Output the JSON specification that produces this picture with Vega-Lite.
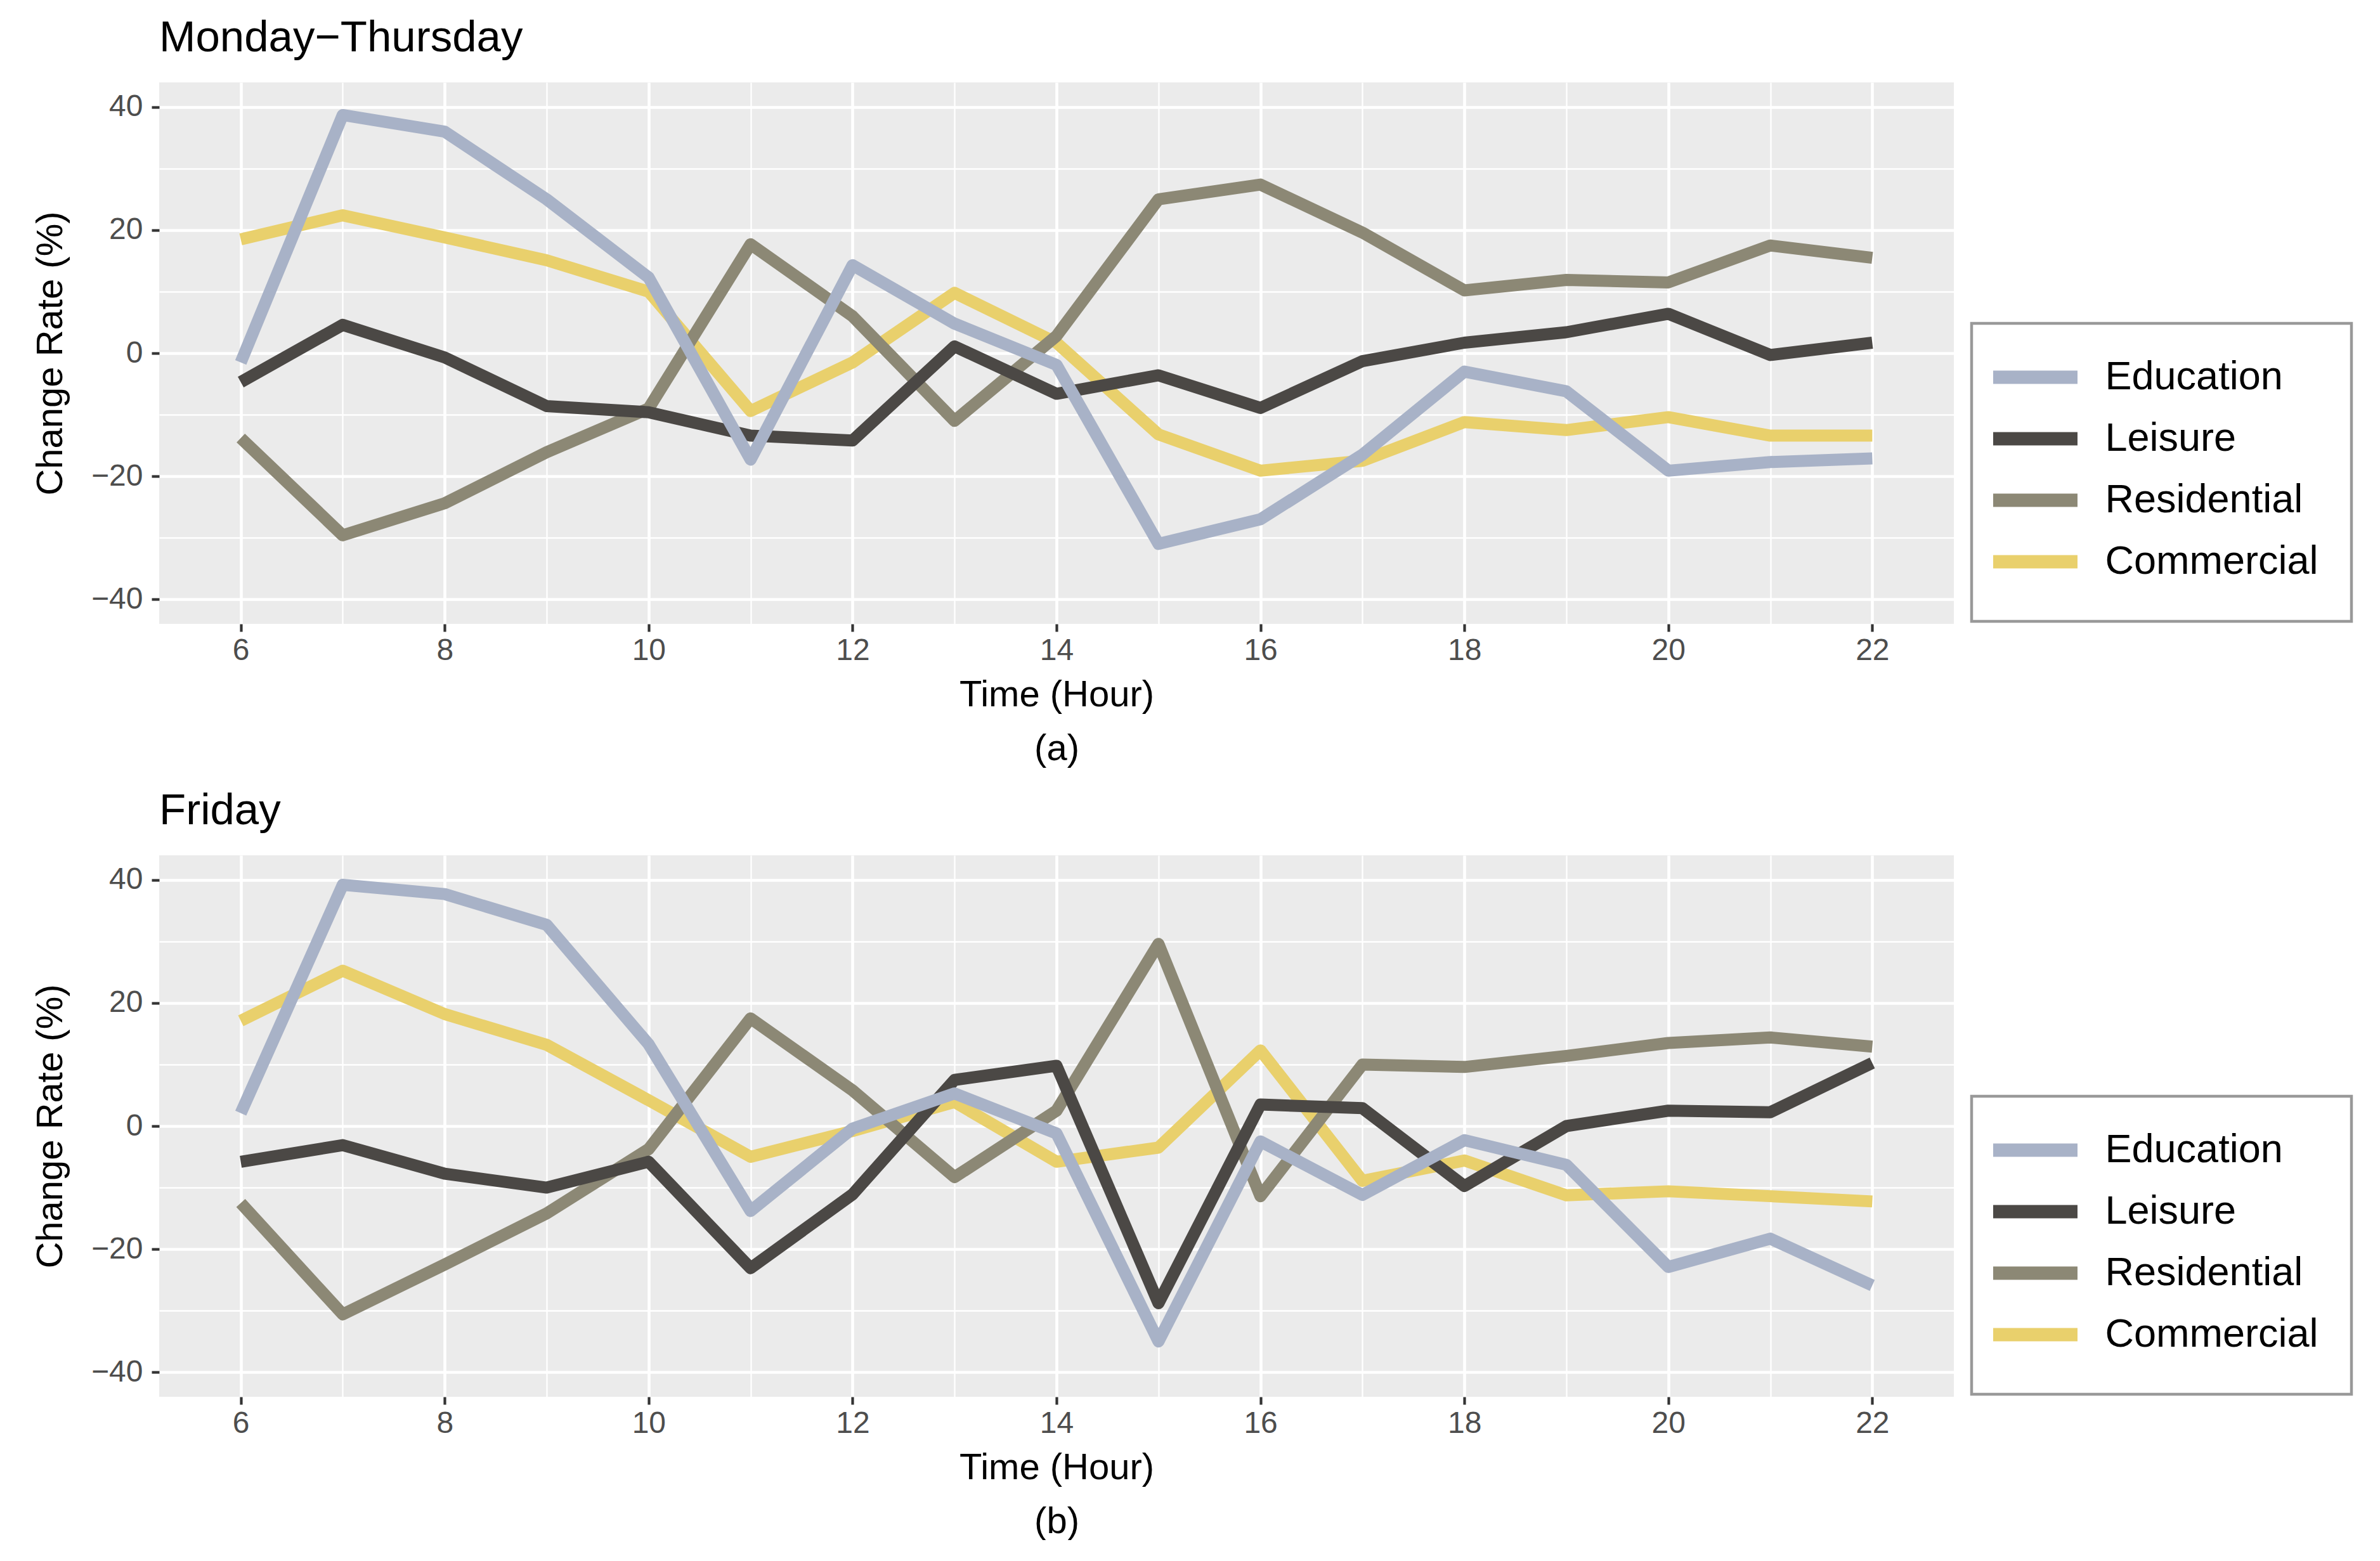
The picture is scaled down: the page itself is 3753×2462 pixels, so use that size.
{
  "$schema": "https://vega.github.io/schema/vega-lite/v6.json",
  "background": "white",
  "padding": {"left": 51, "top": 26, "right": 0, "bottom": 0},
  "autosize": {"type": "pad"},
  "datasets": {
    "rates": [
      {"panel": "a", "category": "Commercial", "hour": 6, "value": 18.5},
      {"panel": "a", "category": "Commercial", "hour": 7, "value": 22.4},
      {"panel": "a", "category": "Commercial", "hour": 8, "value": 18.8},
      {"panel": "a", "category": "Commercial", "hour": 9, "value": 15.1},
      {"panel": "a", "category": "Commercial", "hour": 10, "value": 10.0},
      {"panel": "a", "category": "Commercial", "hour": 11, "value": -9.4},
      {"panel": "a", "category": "Commercial", "hour": 12, "value": -1.5},
      {"panel": "a", "category": "Commercial", "hour": 13, "value": 9.8},
      {"panel": "a", "category": "Commercial", "hour": 14, "value": 1.7},
      {"panel": "a", "category": "Commercial", "hour": 15, "value": -13.2},
      {"panel": "a", "category": "Commercial", "hour": 16, "value": -19.1},
      {"panel": "a", "category": "Commercial", "hour": 17, "value": -17.5},
      {"panel": "a", "category": "Commercial", "hour": 18, "value": -11.2},
      {"panel": "a", "category": "Commercial", "hour": 19, "value": -12.5},
      {"panel": "a", "category": "Commercial", "hour": 20, "value": -10.4},
      {"panel": "a", "category": "Commercial", "hour": 21, "value": -13.4},
      {"panel": "a", "category": "Commercial", "hour": 22, "value": -13.4},
      {"panel": "a", "category": "Residential", "hour": 6, "value": -13.8},
      {"panel": "a", "category": "Residential", "hour": 7, "value": -29.6},
      {"panel": "a", "category": "Residential", "hour": 8, "value": -24.4},
      {"panel": "a", "category": "Residential", "hour": 9, "value": -16.1},
      {"panel": "a", "category": "Residential", "hour": 10, "value": -9.0},
      {"panel": "a", "category": "Residential", "hour": 11, "value": 17.7},
      {"panel": "a", "category": "Residential", "hour": 12, "value": 6.0},
      {"panel": "a", "category": "Residential", "hour": 13, "value": -11.0},
      {"panel": "a", "category": "Residential", "hour": 14, "value": 2.8},
      {"panel": "a", "category": "Residential", "hour": 15, "value": 25.0},
      {"panel": "a", "category": "Residential", "hour": 16, "value": 27.4},
      {"panel": "a", "category": "Residential", "hour": 17, "value": 19.6},
      {"panel": "a", "category": "Residential", "hour": 18, "value": 10.2},
      {"panel": "a", "category": "Residential", "hour": 19, "value": 11.9},
      {"panel": "a", "category": "Residential", "hour": 20, "value": 11.5},
      {"panel": "a", "category": "Residential", "hour": 21, "value": 17.5},
      {"panel": "a", "category": "Residential", "hour": 22, "value": 15.5},
      {"panel": "a", "category": "Leisure", "hour": 6, "value": -4.7},
      {"panel": "a", "category": "Leisure", "hour": 7, "value": 4.6},
      {"panel": "a", "category": "Leisure", "hour": 8, "value": -0.7},
      {"panel": "a", "category": "Leisure", "hour": 9, "value": -8.6},
      {"panel": "a", "category": "Leisure", "hour": 10, "value": -9.6},
      {"panel": "a", "category": "Leisure", "hour": 11, "value": -13.4},
      {"panel": "a", "category": "Leisure", "hour": 12, "value": -14.2},
      {"panel": "a", "category": "Leisure", "hour": 13, "value": 1.1},
      {"panel": "a", "category": "Leisure", "hour": 14, "value": -6.6},
      {"panel": "a", "category": "Leisure", "hour": 15, "value": -3.6},
      {"panel": "a", "category": "Leisure", "hour": 16, "value": -8.9},
      {"panel": "a", "category": "Leisure", "hour": 17, "value": -1.3},
      {"panel": "a", "category": "Leisure", "hour": 18, "value": 1.7},
      {"panel": "a", "category": "Leisure", "hour": 19, "value": 3.4},
      {"panel": "a", "category": "Leisure", "hour": 20, "value": 6.4},
      {"panel": "a", "category": "Leisure", "hour": 21, "value": -0.3},
      {"panel": "a", "category": "Leisure", "hour": 22, "value": 1.7},
      {"panel": "a", "category": "Education", "hour": 6, "value": -1.5},
      {"panel": "a", "category": "Education", "hour": 7, "value": 38.7},
      {"panel": "a", "category": "Education", "hour": 8, "value": 36.0},
      {"panel": "a", "category": "Education", "hour": 9, "value": 25.0},
      {"panel": "a", "category": "Education", "hour": 10, "value": 12.3},
      {"panel": "a", "category": "Education", "hour": 11, "value": -17.3},
      {"panel": "a", "category": "Education", "hour": 12, "value": 14.3},
      {"panel": "a", "category": "Education", "hour": 13, "value": 4.8},
      {"panel": "a", "category": "Education", "hour": 14, "value": -1.9},
      {"panel": "a", "category": "Education", "hour": 15, "value": -31.0},
      {"panel": "a", "category": "Education", "hour": 16, "value": -27.0},
      {"panel": "a", "category": "Education", "hour": 17, "value": -16.5},
      {"panel": "a", "category": "Education", "hour": 18, "value": -3.0},
      {"panel": "a", "category": "Education", "hour": 19, "value": -6.2},
      {"panel": "a", "category": "Education", "hour": 20, "value": -19.1},
      {"panel": "a", "category": "Education", "hour": 21, "value": -17.7},
      {"panel": "a", "category": "Education", "hour": 22, "value": -17.1},
      {"panel": "b", "category": "Commercial", "hour": 6, "value": 17.1},
      {"panel": "b", "category": "Commercial", "hour": 7, "value": 25.25},
      {"panel": "b", "category": "Commercial", "hour": 8, "value": 18.2},
      {"panel": "b", "category": "Commercial", "hour": 9, "value": 13.2},
      {"panel": "b", "category": "Commercial", "hour": 10, "value": 4.2},
      {"panel": "b", "category": "Commercial", "hour": 11, "value": -5.0},
      {"panel": "b", "category": "Commercial", "hour": 12, "value": -0.8},
      {"panel": "b", "category": "Commercial", "hour": 13, "value": 3.9},
      {"panel": "b", "category": "Commercial", "hour": 14, "value": -5.8},
      {"panel": "b", "category": "Commercial", "hour": 15, "value": -3.5},
      {"panel": "b", "category": "Commercial", "hour": 16, "value": 12.3},
      {"panel": "b", "category": "Commercial", "hour": 17, "value": -8.9},
      {"panel": "b", "category": "Commercial", "hour": 18, "value": -5.6},
      {"panel": "b", "category": "Commercial", "hour": 19, "value": -11.25},
      {"panel": "b", "category": "Commercial", "hour": 20, "value": -10.6},
      {"panel": "b", "category": "Commercial", "hour": 21, "value": -11.4},
      {"panel": "b", "category": "Commercial", "hour": 22, "value": -12.25},
      {"panel": "b", "category": "Residential", "hour": 6, "value": -12.5},
      {"panel": "b", "category": "Residential", "hour": 7, "value": -30.6},
      {"panel": "b", "category": "Residential", "hour": 8, "value": -22.5},
      {"panel": "b", "category": "Residential", "hour": 9, "value": -14.2},
      {"panel": "b", "category": "Residential", "hour": 10, "value": -3.75},
      {"panel": "b", "category": "Residential", "hour": 11, "value": 17.5},
      {"panel": "b", "category": "Residential", "hour": 12, "value": 5.8},
      {"panel": "b", "category": "Residential", "hour": 13, "value": -8.3},
      {"panel": "b", "category": "Residential", "hour": 14, "value": 2.5},
      {"panel": "b", "category": "Residential", "hour": 15, "value": 29.6},
      {"panel": "b", "category": "Residential", "hour": 16, "value": -11.4},
      {"panel": "b", "category": "Residential", "hour": 17, "value": 10.0},
      {"panel": "b", "category": "Residential", "hour": 18, "value": 9.6},
      {"panel": "b", "category": "Residential", "hour": 19, "value": 11.4},
      {"panel": "b", "category": "Residential", "hour": 20, "value": 13.5},
      {"panel": "b", "category": "Residential", "hour": 21, "value": 14.4},
      {"panel": "b", "category": "Residential", "hour": 22, "value": 12.9},
      {"panel": "b", "category": "Leisure", "hour": 6, "value": -5.8},
      {"panel": "b", "category": "Leisure", "hour": 7, "value": -3.1},
      {"panel": "b", "category": "Leisure", "hour": 8, "value": -7.75},
      {"panel": "b", "category": "Leisure", "hour": 9, "value": -10.0},
      {"panel": "b", "category": "Leisure", "hour": 10, "value": -5.8},
      {"panel": "b", "category": "Leisure", "hour": 11, "value": -23.1},
      {"panel": "b", "category": "Leisure", "hour": 12, "value": -11.1},
      {"panel": "b", "category": "Leisure", "hour": 13, "value": 7.5},
      {"panel": "b", "category": "Leisure", "hour": 14, "value": 9.8},
      {"panel": "b", "category": "Leisure", "hour": 15, "value": -28.8},
      {"panel": "b", "category": "Leisure", "hour": 16, "value": 3.5},
      {"panel": "b", "category": "Leisure", "hour": 17, "value": 2.9},
      {"panel": "b", "category": "Leisure", "hour": 18, "value": -9.75},
      {"panel": "b", "category": "Leisure", "hour": 19, "value": 0.0},
      {"panel": "b", "category": "Leisure", "hour": 20, "value": 2.5},
      {"panel": "b", "category": "Leisure", "hour": 21, "value": 2.25},
      {"panel": "b", "category": "Leisure", "hour": 22, "value": 10.25},
      {"panel": "b", "category": "Education", "hour": 6, "value": 2.1},
      {"panel": "b", "category": "Education", "hour": 7, "value": 39.2},
      {"panel": "b", "category": "Education", "hour": 8, "value": 37.7},
      {"panel": "b", "category": "Education", "hour": 9, "value": 32.7},
      {"panel": "b", "category": "Education", "hour": 10, "value": 13.3},
      {"panel": "b", "category": "Education", "hour": 11, "value": -13.8},
      {"panel": "b", "category": "Education", "hour": 12, "value": -0.4},
      {"panel": "b", "category": "Education", "hour": 13, "value": 5.3},
      {"panel": "b", "category": "Education", "hour": 14, "value": -1.2},
      {"panel": "b", "category": "Education", "hour": 15, "value": -35.0},
      {"panel": "b", "category": "Education", "hour": 16, "value": -2.5},
      {"panel": "b", "category": "Education", "hour": 17, "value": -11.2},
      {"panel": "b", "category": "Education", "hour": 18, "value": -2.3},
      {"panel": "b", "category": "Education", "hour": 19, "value": -6.3},
      {"panel": "b", "category": "Education", "hour": 20, "value": -22.9},
      {"panel": "b", "category": "Education", "hour": 21, "value": -18.3},
      {"panel": "b", "category": "Education", "hour": 22, "value": -25.9}
    ]
  },
  "spacing": 35,
  "resolve": {"legend": {"color": "independent"}},
  "vconcat": [
    {
      "data": {"name": "rates"},
      "transform": [{"filter": "datum.panel === 'a'"}],
      "title": {"text": "Monday−Thursday"},
      "width": 2830,
      "height": 854,
      "mark": {"type": "line", "strokeWidth": 19, "strokeJoin": "round", "strokeCap": "butt"},
      "encoding": {
        "x": {"field": "hour", "type": "quantitative", "scale": {"domain": [5.2, 22.8], "nice": false, "zero": false},
              "axis": {"title": ["Time (Hour)", "(a)"], "values": [6, 7, 8, 9, 10, 11, 12, 13, 14, 15, 16, 17, 18, 19, 20, 21, 22], "format": "d"}},
        "y": {"field": "value", "type": "quantitative", "scale": {"domain": [-44, 44], "nice": false},
              "axis": {"title": "Change Rate (%)", "values": [-40, -30, -20, -10, 0, 10, 20, 30, 40], "format": "d"}},
        "color": {
          "field": "category", "type": "nominal",
          "scale": {"domain": ["Education", "Leisure", "Residential", "Commercial"], "range": ["#A8B2C7", "#4B4845", "#8C8875", "#E9D06C"]},
          "legend": {"orient": "none", "legendX": 2858, "legendY": 380}
        }
      }
    },
    {
      "data": {"name": "rates"},
      "transform": [{"filter": "datum.panel === 'b'"}],
      "title": {"text": "Friday"},
      "width": 2830,
      "height": 854,
      "mark": {"type": "line", "strokeWidth": 19, "strokeJoin": "round", "strokeCap": "butt"},
      "encoding": {
        "x": {"field": "hour", "type": "quantitative", "scale": {"domain": [5.2, 22.8], "nice": false, "zero": false},
              "axis": {"title": ["Time (Hour)", "(b)"], "values": [6, 7, 8, 9, 10, 11, 12, 13, 14, 15, 16, 17, 18, 19, 20, 21, 22], "format": "d"}},
        "y": {"field": "value", "type": "quantitative", "scale": {"domain": [-44, 44], "nice": false},
              "axis": {"title": "Change Rate (%)", "values": [-40, -30, -20, -10, 0, 10, 20, 30, 40], "format": "d"}},
        "color": {
          "field": "category", "type": "nominal",
          "scale": {"domain": ["Education", "Leisure", "Residential", "Commercial"], "range": ["#A8B2C7", "#4B4845", "#8C8875", "#E9D06C"]},
          "legend": {"orient": "none", "legendX": 2858, "legendY": 380}
        }
      }
    }
  ],
  "config": {
    "font": "Liberation Sans",
    "view": {"fill": "#EBEBEB", "stroke": null},
    "title": {"anchor": "start", "frame": "group", "fontSize": 69, "fontWeight": "normal", "font": "Liberation Sans", "color": "black", "offset": 35, "baseline": "alphabetic"},
    "axis": {
      "domain": false,
      "gridColor": "white",
      "tickColor": "#333333",
      "tickSize": 12,
      "labelFont": "Liberation Sans",
      "labelFontSize": 48,
      "labelColor": "#4D4D4D",
      "labelPadding": 14,
      "labelOverlap": false,
      "labelFlush": false,
      "titleFont": "Liberation Sans",
      "titleFontSize": 58,
      "titleFontWeight": "normal",
      "titleColor": "black"
    },
    "axisX": {
      "labelExpr": "datum.value % 2 === 0 ? datum.label : ''",
      "gridWidth": {"condition": {"test": "datum.value % 2 === 0", "value": 4.6}, "value": 2.3},
      "tickWidth": {"condition": {"test": "datum.value % 2 === 0", "value": 4.2}, "value": 0},
      "labelPadding": 6,
      "titlePadding": 17,
      "titleLineHeight": 85
    },
    "axisY": {
      "labelExpr": "datum.value % 20 === 0 ? replace(datum.label, '-', '−') : ''",
      "gridWidth": {"condition": {"test": "datum.value % 20 === 0", "value": 4.6}, "value": 2.3},
      "tickWidth": {"condition": {"test": "datum.value % 20 === 0", "value": 4.2}, "value": 0},
      "titlePadding": 34
    },
    "legend": {
      "title": null,
      "symbolType": "M-3,0H3",
      "symbolSize": 1965,
      "symbolStrokeWidth": 21,
      "symbolOffset": 15.5,
      "labelOffset": 77,
      "labelLimit": 0,
      "labelFont": "Liberation Sans",
      "labelFontSize": 63,
      "labelColor": "black",
      "padding": 52,
      "rowPadding": 13,
      "strokeColor": "#999999",
      "strokeWidth": 4.5,
      "fillColor": "white"
    }
  }
}
